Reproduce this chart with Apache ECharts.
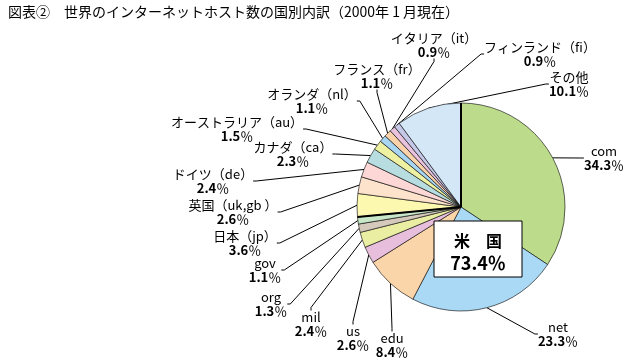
<!DOCTYPE html>
<html><head><meta charset="utf-8">
<script src="https://cdn.jsdelivr.net/npm/echarts@6/dist/echarts.min.js"></script>
<style>html,body{margin:0;padding:0;background:#fff}#c{width:633px;height:362px}</style>
</head><body><div id="c"></div>
<script>
// ---- data ----
const categories = ['com','net','edu','us','mil','org','gov','日本（jp）','英国（uk,gb ）','ドイツ（de）','カナダ（ca）','オーストラリア（au）','オランダ（nl）','フランス（fr）','イタリア（it）','フィンランド（fi）','その他'];
const values = [34.3,23.3,8.4,2.6,2.4,1.3,1.1,3.6,2.6,2.4,2.3,1.5,1.1,1.1,0.9,0.9,10.1];
const usCount = 7; // first 7 categories belong to 米国
const titleText = '図表②　世界のインターネットホスト数の国別内訳（2000年 1 月現在）';
const groupLabel = '米　国';

// ---- styles / layout (not data) ----
const colors = ['#bcdc8c','#a9d9f5','#fbd5aa','#e7bfdc','#eaeea3','#d5c9bc','#c8e6c8','#fdf8b0','#fde3cc','#fcd7d5','#b8dde1','#eef0a2','#a8d5f2','#fbd3aa','#e9c3dd','#c6c8e8','#d3e7f7'];
const labelPos = [[604,158],[558,334],[392,345],[353,338],[311,324],[271,304],[265,270],[245,243],[233,212],[213,181],[293,154],[237,129],[312,101],[377,76],[434,45],[540,54],[569,84]];
const cx = 461, cy = 207, R = 104;
const FONT = '"Noto Sans CJK JP", sans-serif';

const chart = echarts.init(document.getElementById('c'), null, {renderer:'canvas'});
const total = values.reduce((a,b)=>a+b,0);
const usSum = values.slice(0,usCount).reduce((a,b)=>a+b,0);

function edgePoint(frac){
  const a = frac*2*Math.PI; // clockwise from 12 o'clock
  return [cx + R*Math.sin(a), cy - R*Math.cos(a)];
}
const p0 = edgePoint(0), p1 = edgePoint(usSum/total);

chart.setOption({
  animation:false,
  graphic:[
    {type:'text', left:8, top:5, style:{text:titleText, font:'14px '+FONT, fill:'#000'}},
    {type:'line', z:10, shape:{x1:cx,y1:cy,x2:p0[0],y2:p0[1]}, style:{stroke:'#000', lineWidth:2}},
    {type:'line', z:10, shape:{x1:cx,y1:cy,x2:p1[0],y2:p1[1]}, style:{stroke:'#000', lineWidth:2}},
    {type:'rect', z:20, shape:{x:434,y:221,width:88,height:56}, style:{fill:'#fff', stroke:'#000', lineWidth:1}},
    {type:'text', z:21, x:478, y:241, style:{text:groupLabel, font:'bold 16px '+FONT, fill:'#000', align:'center', verticalAlign:'middle'}},
    {type:'text', z:21, x:478, y:263, style:{text:usSum.toFixed(1)+'％', font:'bold 18px '+FONT, fill:'#000', align:'center', verticalAlign:'middle'}}
  ],
  series:[{
    type:'pie',
    center:[cx,cy],
    radius:[0,R],
    startAngle:90,
    clockwise:true,
    data:categories.map((n,i)=>({name:n, value:values[i], itemStyle:{color:colors[i]}})),
    itemStyle:{borderColor:'#000', borderWidth:0.6},
    label:{
      show:true, position:'outside',
      formatter:p=>'{n|'+p.name+'}\n{v|'+p.value.toFixed(1)+'}{p|％}',
      rich:{
        n:{fontFamily:FONT, fontSize:13, color:'#000', lineHeight:14, align:'center'},
        v:{fontFamily:FONT, fontSize:13, fontWeight:'bold', color:'#000', lineHeight:14},
        p:{fontFamily:FONT, fontSize:13, color:'#000', lineHeight:14}
      },
      align:'center'
    },
    labelLine:{show:true, length:8, length2:3, lineStyle:{color:'#000', width:1}},
    labelLayout:function(params){
      const p = labelPos[params.dataIndex];
      return {x:p[0], y:p[1], align:'center', verticalAlign:'middle'};
    },
    emphasis:{disabled:true}
  }]
});
</script></body></html>
